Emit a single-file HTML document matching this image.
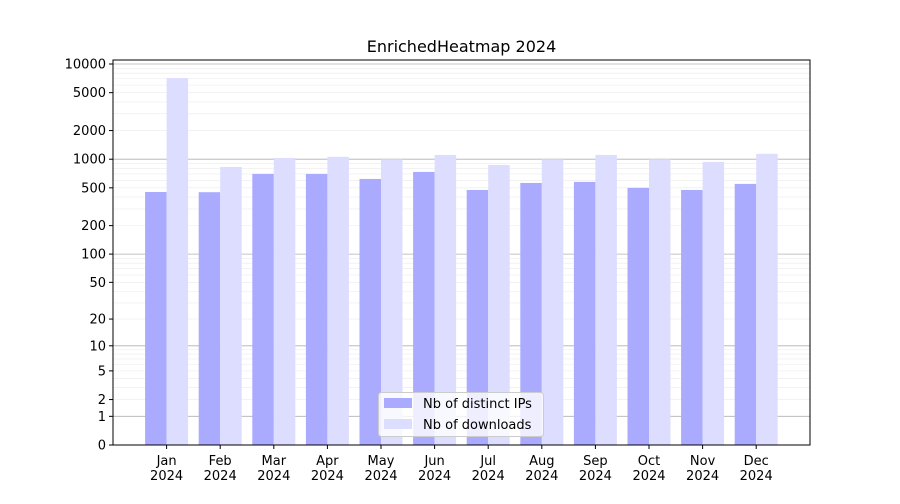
<!DOCTYPE html>
<html><head><meta charset="utf-8"><style>
body{margin:0;background:#fff;font-family:"DejaVu Sans","Liberation Sans",sans-serif;}
svg text{font-family:"DejaVu Sans","Liberation Sans",sans-serif;}
</style></head><body>
<svg id="chart" width="900" height="500" xmlns="http://www.w3.org/2000/svg"></svg>
<script>
const months = ["Jan","Feb","Mar","Apr","May","Jun","Jul","Aug","Sep","Oct","Nov","Dec"];
const yearLabel = "2024";
const distinctIPs = [452,450,700,700,620,735,475,563,577,500,475,550];
const downloads = [7130,829,1030,1060,1000,1110,870,1000,1110,1000,935,1140];
const yTicks = [0,1,2,5,10,20,50,100,200,500,1000,2000,5000,10000];

const NS="http://www.w3.org/2000/svg";
const svg=document.getElementById('chart');
const L=113,R=810,T=60,B=445;
function y(v){return B-95.25*Math.log10(1+v);}
function x(i){return L+53.6*(i+1);}
const bw=21.5;
function mk(tag,attrs,parent){const e=document.createElementNS(NS,tag);for(const k in attrs)e.setAttribute(k,attrs[k]);(parent||svg).appendChild(e);return e;}

// grid
const gGrid=mk('g',{});


for(let d=1;d<=10000;d*=10){
  for(let m=1;m<10;m++){
    const v=d*m; if(v>10000)break;
    const ln=mk('line',{x1:L,x2:R,y1:y(v),y2:y(v),stroke:m===1?'#b0b0b0':'#ebebeb','stroke-width':m===1?0.8:0.6},gGrid);
    
    
  }
}
// bars
months.forEach((mo,i)=>{
  const a=mk('rect',{x:x(i)-bw,y:y(distinctIPs[i]),width:bw,height:B-y(distinctIPs[i]),fill:'#aaaaff'});
  
  
  const b=mk('rect',{x:x(i),y:y(downloads[i]),width:bw,height:B-y(downloads[i]),fill:'#ddddff'});
  
  
  mk('line',{x1:x(i),x2:x(i),y1:B,y2:B+4,stroke:'#000'});
  const t=mk('text',{x:x(i),y:B+20,'text-anchor':'middle','font-size':13});
  t.textContent=mo;
  
  
  const t2=mk('text',{x:x(i),y:B+35,'text-anchor':'middle','font-size':13});
  t2.textContent=yearLabel;
  
  
});
// y ticks
yTicks.forEach(v=>{
  mk('line',{x1:L-4,x2:L,y1:y(v),y2:y(v),stroke:'#000'});
  const t=mk('text',{x:L-7,y:y(v)+4.5,'text-anchor':'end','font-size':13});
  t.textContent=v;
  
  
});
// frame
const fr=mk('rect',{x:L,y:T,width:R-L,height:B-T,fill:'none',stroke:'#000','stroke-width':1});


// title
const ti=mk('text',{x:(L+R)/2,y:52,'text-anchor':'middle','font-size':16});
ti.textContent='EnrichedHeatmap 2024';


// legend
const lg=mk('g',{});


mk('rect',{x:378.5,y:392.5,width:165,height:44,rx:3,fill:'#fff','fill-opacity':0.8,stroke:'#ccc'},lg);
mk('rect',{x:384,y:398,width:28,height:10,fill:'#aaaaff'},lg);
mk('rect',{x:384,y:419,width:28,height:10,fill:'#ddddff'},lg);
const l1=mk('text',{x:423,y:408,'font-size':13},lg);l1.textContent='Nb of distinct IPs';


const l2=mk('text',{x:423,y:429,'font-size':13},lg);l2.textContent='Nb of downloads';


</script>
</body></html>
